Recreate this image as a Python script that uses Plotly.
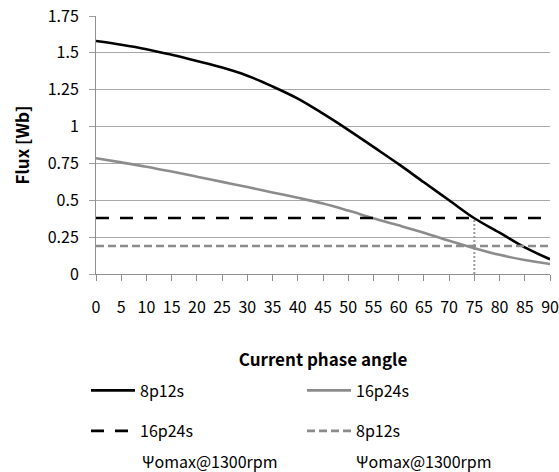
import plotly.graph_objects as go

angles = [0, 5, 10, 15, 20, 25, 30, 35, 40, 45, 50, 55, 60, 65, 70, 75, 80, 85, 90]
flux_8p12s = [1.58, 1.555, 1.525, 1.487, 1.445, 1.40, 1.345, 1.272, 1.19, 1.088, 0.978,
              0.862, 0.745, 0.622, 0.50, 0.378, 0.28, 0.18, 0.10]
flux_16p24s = [0.785, 0.757, 0.728, 0.695, 0.66, 0.625, 0.59, 0.553, 0.517, 0.478, 0.43,
               0.378, 0.33, 0.28, 0.225, 0.175, 0.13, 0.095, 0.068]
limit_x = [0, 90]
psi_16p24s = [0.38, 0.38]
psi_8p12s = [0.19, 0.19]
cross_x = [75, 75]
cross_y = [0, 0.38]
limit_note = "Ψomax@1300rpm"

ytick_vals = [0, 0.25, 0.5, 0.75, 1, 1.25, 1.5, 1.75]
ytick_text = ["0", "0.25", "0.5", "0.75", "1", "1.25", "1.5", "1.75"]

FONT = "Noto Sans CJK KR, Open Sans, sans-serif"

fig = go.Figure()
fig.add_trace(go.Scatter(x=cross_x, y=cross_y, mode="lines", showlegend=False,
                         line=dict(color="#9a9a9a", width=2, dash="2px,2px")))
fig.add_trace(go.Scatter(x=angles, y=flux_8p12s, mode="lines", name="8p12s",
                         line=dict(color="#000000", width=2.6, shape="spline"), legend="legend"))
fig.add_trace(go.Scatter(x=angles, y=flux_16p24s, mode="lines", name="16p24s",
                         line=dict(color="#8c8c8c", width=2.6, shape="spline"), legend="legend"))
fig.add_trace(go.Scatter(x=limit_x, y=psi_16p24s, mode="lines", name="16p24s",
                         line=dict(color="#000000", width=2.6, dash="13px,11px"), legend="legend2"))
fig.add_trace(go.Scatter(x=limit_x, y=psi_8p12s, mode="lines", name="8p12s",
                         line=dict(color="#8c8c8c", width=2.6, dash="8px,4px"), legend="legend2"))

leg_common = dict(orientation="h", xanchor="left", yanchor="top", bgcolor="rgba(0,0,0,0)",
                  xref="container", yref="container",
                  font=dict(family=FONT, size=16, color="#000000"),
                  entrywidth=157, entrywidthmode="pixels", itemwidth=44, valign="top",
                  traceorder="normal")

fig.update_layout(
    width=559, height=472,
    margin=dict(l=96, r=9, t=16, b=198, autoexpand=False),
    paper_bgcolor="white", plot_bgcolor="white",
    font=dict(family=FONT, size=16, color="#000000"),
    legend=dict(x=86 / 559, y=1 - 373.5 / 472, **leg_common),
    legend2=dict(x=86 / 559, y=1 - 414 / 472, **leg_common),
    xaxis=dict(range=[0, 90], tickvals=angles, ticks="outside", ticklen=6, tickcolor="#909090",
               showline=True, linecolor="#909090", linewidth=1, showgrid=False, zeroline=False,
               ticklabelstandoff=13, tickfont=dict(size=16), automargin=False,
               title=dict(text="<b>Current phase angle</b>", font=dict(size=17), standoff=36)),
    yaxis=dict(range=[0, 1.75], tickvals=ytick_vals, ticktext=ytick_text, ticks="outside",
               ticklen=6, tickcolor="#a0a0a0", showline=True, linecolor="#909090", linewidth=1,
               showgrid=True, gridcolor="#a8a8a8", gridwidth=1, zeroline=False,
               ticklabelstandoff=7, tickfont=dict(size=16), automargin=False,
               title=dict(text="<b>Flux [Wb]</b>", font=dict(size=17), standoff=13)),
    annotations=[
        dict(text=limit_note, xref="paper", yref="paper", x=(140 - 96) / 454, y=(274 - 461) / 258,
             xanchor="left", yanchor="middle", showarrow=False,
             font=dict(family=FONT, size=16, color="#000000")),
        dict(text=limit_note, xref="paper", yref="paper", x=(354 - 96) / 454, y=(274 - 461) / 258,
             xanchor="left", yanchor="middle", showarrow=False,
             font=dict(family=FONT, size=16, color="#000000")),
    ],
)

fig.write_html("out.html", config={"displayModeBar": False},
               post_script="document.body.style.margin='0';")
